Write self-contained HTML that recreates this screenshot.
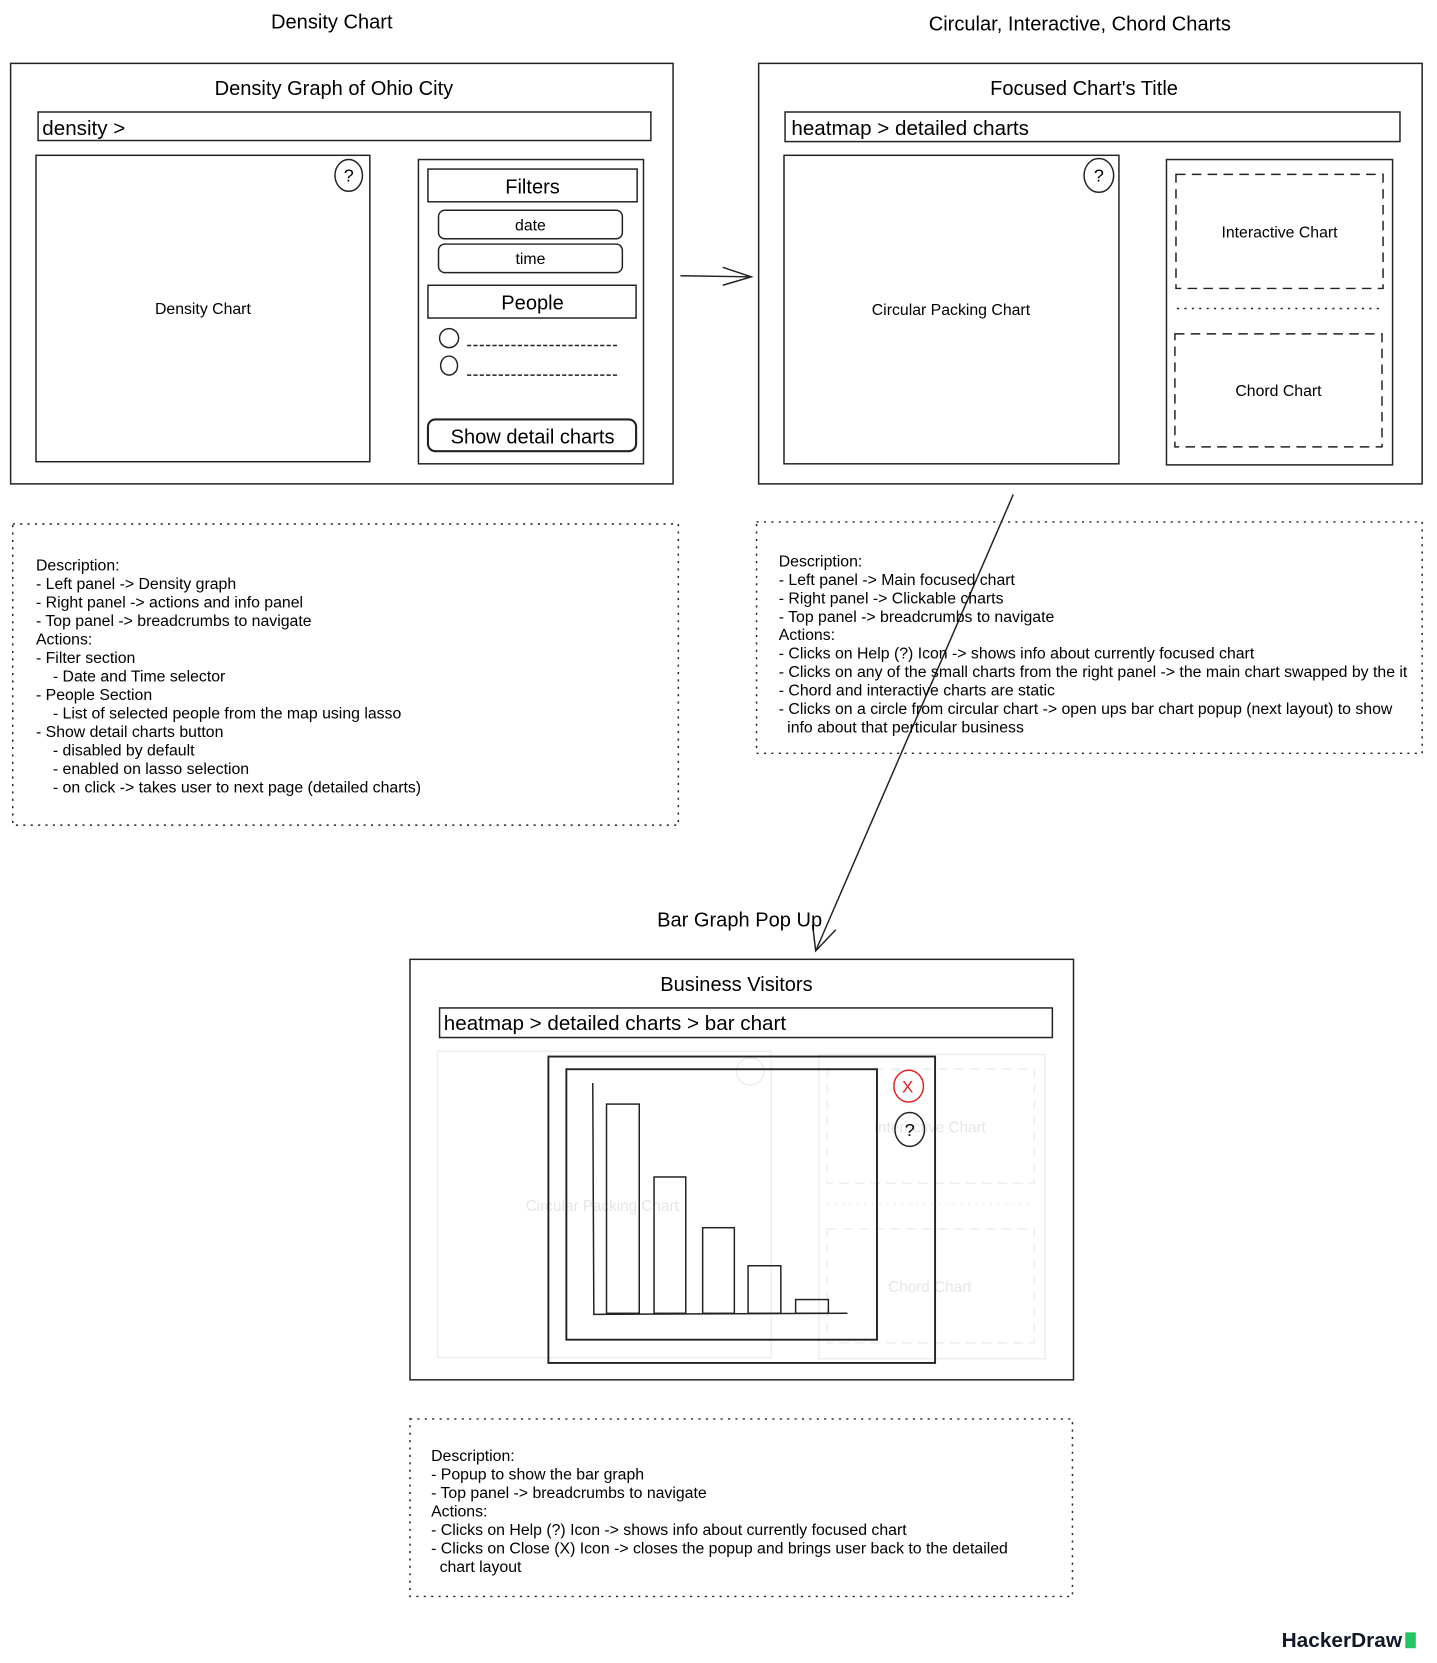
<!DOCTYPE html>
<html><head><meta charset="utf-8"><style>
html,body{margin:0;padding:0;background:#fff;}
svg{display:block;}
text{font-family:"Liberation Sans",Arial,sans-serif;}
</style></head><body>
<svg width="1437" height="1663" viewBox="0 0 1360 1574" xmlns="http://www.w3.org/2000/svg">
<g fill="none" stroke="#222" stroke-width="1.4">
<!-- Panel 1 -->
<rect x="10" y="60" width="627" height="398"/>
<rect x="36" y="106" width="580" height="27"/>
<rect x="34" y="147" width="316" height="290"/>
<ellipse cx="330" cy="166" rx="13" ry="15"/>
<rect x="396" y="151" width="213" height="288"/>
<rect x="405" y="160" width="198" height="31"/>
<rect x="415" y="199" width="174" height="27" rx="6"/>
<rect x="415" y="231" width="174" height="27" rx="6"/>
<rect x="405" y="270" width="197" height="31"/>
<ellipse cx="425" cy="320" rx="9" ry="9"/>
<ellipse cx="425" cy="346" rx="8" ry="9"/>
<line x1="442" y1="327" x2="585" y2="327" stroke-dasharray="4,2"/>
<line x1="442" y1="355" x2="585" y2="355" stroke-dasharray="4,2"/>
<rect x="405" y="397" width="197" height="30" rx="7" stroke-width="2"/>
<!-- arrow 1 -->
<line x1="644" y1="261" x2="710" y2="262"/>
<polyline points="684,253 711,262 684,270"/>
<!-- Panel 2 -->
<rect x="718" y="60" width="628" height="398"/>
<rect x="743" y="106" width="582" height="28"/>
<rect x="742" y="147" width="317" height="292"/>
<ellipse cx="1040" cy="166" rx="14" ry="16"/>
<rect x="1104" y="151" width="214" height="289"/>
<rect x="1113" y="165" width="196" height="108" stroke-dasharray="9,6"/>
<line x1="1114" y1="292" x2="1309" y2="292" stroke-dasharray="2,5"/>
<rect x="1112" y="316" width="196" height="107" stroke-dasharray="9,6"/>
<!-- desc boxes -->
<rect x="12" y="496" width="630" height="285" stroke-dasharray="2,5"/>
<rect x="716" y="494" width="630" height="219" stroke-dasharray="2,5"/>
<rect x="388" y="1343" width="627" height="168" stroke-dasharray="2,5"/>
<!-- arrow 2 -->
<line x1="959" y1="468" x2="772" y2="900"/>
<polyline points="769,875 772,900 791,880"/>
<!-- Panel 3 -->
<rect x="388" y="908" width="628" height="398"/>
<rect x="416" y="954" width="580" height="28"/>
<g stroke="#eee">
<rect x="414" y="995" width="316" height="290"/>
<circle cx="710" cy="1014" r="13"/>
<rect x="775" y="998" width="214" height="288"/>
<rect x="783" y="1012" width="196" height="108" stroke-dasharray="9,6"/>
<rect x="783" y="1163" width="196" height="108" stroke-dasharray="9,6"/>
<line x1="783" y1="1140" x2="978" y2="1140" stroke-dasharray="2,5"/>
</g>
</g>
<g font-size="14.5" text-anchor="middle" style="fill:#e6e6e6">
<text x="570" y="1146" style="fill:#e6e6e6">Circular Packing Chart</text>
<text x="880" y="1072" style="fill:#e6e6e6">Interactive Chart</text>
<text x="880" y="1223" style="fill:#e6e6e6">Chord Chart</text>
</g>
<g fill="none" stroke="#222" stroke-width="1.4">
<rect x="519" y="1000" width="366" height="290" stroke-width="1.8"/>
<rect x="536" y="1012" width="294" height="256" stroke-width="1.8"/>
<polyline points="561,1025 562,1244 802,1243"/>
<rect x="574" y="1045" width="31" height="198"/>
<rect x="619" y="1114" width="30" height="129"/>
<rect x="665" y="1162" width="30" height="81"/>
<rect x="708" y="1198" width="31" height="45"/>
<rect x="753" y="1230" width="31" height="13"/>
<ellipse cx="860" cy="1028" rx="14" ry="15" stroke="#d22"/>
<ellipse cx="861" cy="1069" rx="14" ry="16"/>
</g>
<g font-size="19" text-anchor="middle">
<text x="314" y="27">Density Chart</text>
<text x="1022" y="29">Circular, Interactive, Chord Charts</text>
<text x="316" y="90">Density Graph of Ohio City</text>
<text x="1026" y="90">Focused Chart's Title</text>
<text x="504" y="183">Filters</text>
<text x="504" y="293">People</text>
<text x="504" y="420">Show detail charts</text>
<text x="700" y="877">Bar Graph Pop Up</text>
<text x="697" y="938">Business Visitors</text>
</g>
<g font-size="19.5">
<text x="40" y="128">density &gt;</text>
<text x="749" y="128">heatmap &gt; detailed charts</text>
<text x="420" y="975">heatmap &gt; detailed charts &gt; bar chart</text>
</g>
<g font-size="15" text-anchor="middle">
<text x="192" y="297">Density Chart</text>
<text x="502" y="218">date</text>
<text x="502" y="250">time</text>
<text x="330" y="172" font-size="17">?</text>
<text x="1040" y="172" font-size="17">?</text>
<text x="900" y="298">Circular Packing Chart</text>
<text x="1211" y="225">Interactive Chart</text>
<text x="1210" y="375">Chord Chart</text>
<text x="859" y="1034" font-size="16" style="fill:#d22">X</text>
<text x="861" y="1075" font-size="17">?</text>
</g>
<g font-size="15">
<text x="34" y="540">Description:</text>
<text x="34" y="557.5">- Left panel -&gt; Density graph</text>
<text x="34" y="575">- Right panel -&gt; actions and info panel</text>
<text x="34" y="592.5">- Top panel -&gt; breadcrumbs to navigate</text>
<text x="34" y="610">Actions:</text>
<text x="34" y="627.5">- Filter section</text>
<text x="50" y="645">- Date and Time selector</text>
<text x="34" y="662.5">- People Section</text>
<text x="50" y="680">- List of selected people from the map using lasso</text>
<text x="34" y="697.5">- Show detail charts button</text>
<text x="50" y="715">- disabled by default</text>
<text x="50" y="732.5">- enabled on lasso selection</text>
<text x="50" y="750">- on click -&gt; takes user to next page (detailed charts)</text>

<text x="737" y="536">Description:</text>
<text x="737" y="553.5">- Left panel -&gt; Main focused chart</text>
<text x="737" y="571">- Right panel -&gt; Clickable charts</text>
<text x="737" y="588.5">- Top panel -&gt; breadcrumbs to navigate</text>
<text x="737" y="606">Actions:</text>
<text x="737" y="623.5">- Clicks on Help (?) Icon -&gt; shows info about currently focused chart</text>
<text x="737" y="641">- Clicks on any of the small charts from the right panel -&gt; the main chart swapped by the it</text>
<text x="737" y="658.5">- Chord and interactive charts are static</text>
<text x="737" y="676">- Clicks on a circle from circular chart -&gt; open ups bar chart popup (next layout) to show</text>
<text x="745" y="693.5">info about that perticular business</text>

<text x="408" y="1383">Description:</text>
<text x="408" y="1400.5">- Popup to show the bar graph</text>
<text x="408" y="1418">- Top panel -&gt; breadcrumbs to navigate</text>
<text x="408" y="1435.5">Actions:</text>
<text x="408" y="1453">- Clicks on Help (?) Icon -&gt; shows info about currently focused chart</text>
<text x="408" y="1470.5">- Clicks on Close (X) Icon -&gt; closes the popup and brings user back to the detailed</text>
<text x="416" y="1488">chart layout</text>
</g>
<text x="1213" y="1559" font-size="19" font-weight="bold" textLength="114" lengthAdjust="spacingAndGlyphs" style="fill:#111827">HackerDraw</text>
<rect x="1330" y="1545" width="10" height="15" fill="#22c55e"/>
</svg>
</body></html>
